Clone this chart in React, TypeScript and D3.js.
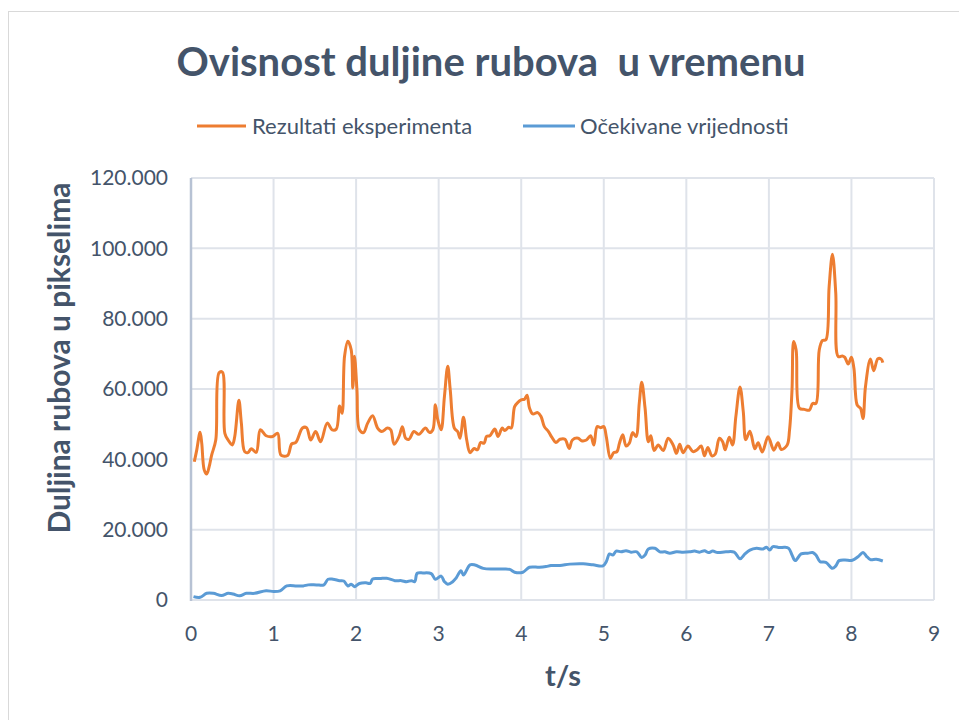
import React from 'react';
import * as d3 from 'd3';

// readings taken off the original chart: [t in s, edge length in thousands of px]
const experiment: [number, number][] = [
  [0.04, 39.3], [0.07, 42.7], [0.11, 47.7], [0.13, 44.6], [0.16, 37.0], [0.19, 35.8], [0.22, 37.9], [0.25, 41.2],
  [0.30, 45.5], [0.34, 64.6], [0.38, 64.8], [0.41, 47.4], [0.45, 45.5], [0.50, 44.1], [0.53, 46.5], [0.58, 56.8],
  [0.61, 50.3], [0.65, 42.2], [0.69, 41.9], [0.73, 43.0], [0.79, 42.0], [0.84, 48.4], [0.91, 46.7], [0.99, 46.5],
  [1.05, 47.4], [1.09, 41.2], [1.17, 41.1], [1.22, 44.4], [1.27, 44.8], [1.35, 48.9], [1.40, 49.0], [1.45, 45.5],
  [1.51, 47.9], [1.57, 45.0], [1.65, 50.3], [1.71, 48.4], [1.76, 48.6], [1.80, 55.2], [1.83, 53.1], [1.86, 69.3],
  [1.90, 73.6], [1.94, 71.2], [1.96, 60.3], [1.98, 69.3], [2.01, 59.8], [2.04, 48.4], [2.09, 47.6], [2.14, 50.3],
  [2.20, 52.4], [2.26, 48.9], [2.31, 47.9], [2.38, 48.9], [2.42, 48.4], [2.46, 44.3], [2.52, 46.5], [2.56, 49.3],
  [2.60, 46.0], [2.64, 45.7], [2.70, 47.9], [2.76, 47.1], [2.84, 48.9], [2.89, 47.6], [2.93, 48.4], [2.96, 55.5],
  [2.99, 51.2], [3.03, 48.4], [3.07, 57.9], [3.11, 66.5], [3.14, 59.8], [3.19, 48.9], [3.23, 47.9], [3.26, 46.0],
  [3.30, 52.0], [3.34, 45.5], [3.38, 41.9], [3.43, 43.1], [3.47, 42.7], [3.51, 44.8], [3.55, 44.6], [3.58, 46.5],
  [3.62, 46.7], [3.68, 48.6], [3.72, 46.5], [3.77, 48.9], [3.80, 48.2], [3.85, 49.1], [3.88, 48.9], [3.92, 55.0],
  [3.96, 56.2], [4.00, 56.9], [4.04, 57.1], [4.07, 58.2], [4.10, 54.6], [4.14, 52.9], [4.20, 53.3], [4.24, 52.2],
  [4.28, 49.3], [4.33, 47.9], [4.37, 46.3], [4.42, 44.8], [4.47, 45.7], [4.53, 45.7], [4.58, 43.1], [4.62, 45.5],
  [4.69, 46.0], [4.73, 45.3], [4.79, 45.5], [4.84, 46.7], [4.88, 44.1], [4.92, 49.3], [4.96, 49.0], [5.00, 49.3],
  [5.03, 46.5], [5.08, 40.3], [5.12, 41.9], [5.16, 42.2], [5.19, 44.6], [5.23, 47.0], [5.27, 43.8], [5.31, 44.6],
  [5.35, 47.6], [5.39, 46.5], [5.43, 56.0], [5.46, 61.9], [5.50, 54.6], [5.54, 45.0], [5.57, 46.7], [5.61, 42.5],
  [5.66, 44.1], [5.72, 42.5], [5.78, 46.0], [5.84, 44.1], [5.88, 41.7], [5.92, 44.3], [5.96, 41.9], [6.02, 43.8],
  [6.08, 42.2], [6.13, 42.7], [6.18, 43.8], [6.22, 41.0], [6.26, 43.4], [6.31, 41.0], [6.35, 41.5], [6.40, 46.0],
  [6.44, 45.0], [6.47, 42.7], [6.52, 46.3], [6.56, 44.1], [6.60, 52.2], [6.65, 60.6], [6.69, 53.5], [6.72, 45.6],
  [6.77, 48.0], [6.83, 43.0], [6.87, 44.7], [6.92, 42.1], [6.99, 46.4], [7.06, 42.6], [7.11, 44.7], [7.15, 42.8],
  [7.22, 44.0], [7.25, 48.3], [7.28, 59.7], [7.30, 73.5], [7.33, 71.1], [7.37, 54.5], [7.43, 54.2], [7.49, 54.0],
  [7.53, 55.9], [7.57, 55.9], [7.61, 71.1], [7.65, 73.8], [7.69, 74.0], [7.73, 89.2], [7.77, 98.3], [7.81, 87.3],
  [7.84, 69.2], [7.89, 69.4], [7.92, 69.0], [7.96, 67.1], [8.00, 69.0], [8.03, 65.9], [8.07, 55.4], [8.11, 54.5],
  [8.14, 51.6], [8.17, 60.7], [8.23, 68.5], [8.27, 65.2], [8.32, 68.6], [8.36, 68.5], [8.38, 67.5],
];

const expected: [number, number][] = [
  [0.03, 0.95], [0.11, 0.76], [0.19, 1.9], [0.27, 1.9], [0.37, 1.3], [0.45, 1.9], [0.51, 1.7], [0.59, 1.2],
  [0.67, 1.9], [0.77, 1.9], [0.91, 2.65], [1.00, 2.4], [1.08, 2.6], [1.16, 4.0], [1.28, 4.0], [1.36, 4.0],
  [1.42, 4.3], [1.52, 4.3], [1.61, 4.3], [1.66, 5.9], [1.72, 5.9], [1.80, 5.5], [1.85, 5.4], [1.90, 4.0],
  [1.94, 4.5], [1.98, 3.8], [2.04, 4.7], [2.12, 4.9], [2.17, 4.7], [2.20, 6.0], [2.29, 6.1], [2.37, 6.2],
  [2.47, 5.5], [2.55, 5.5], [2.61, 5.2], [2.67, 5.5], [2.71, 5.2], [2.74, 7.6], [2.81, 7.7], [2.91, 7.5],
  [2.96, 5.9], [3.03, 6.8], [3.07, 5.2], [3.11, 4.5], [3.17, 5.2], [3.21, 6.2], [3.27, 8.3], [3.30, 7.1],
  [3.38, 10.0], [3.44, 9.95], [3.54, 9.0], [3.66, 8.8], [3.78, 8.8], [3.86, 8.7], [3.92, 7.9], [4.02, 7.9],
  [4.10, 9.3], [4.22, 9.3], [4.30, 9.5], [4.36, 9.8], [4.47, 9.8], [4.59, 10.2], [4.75, 10.3], [4.87, 10.0],
  [4.99, 9.7], [5.03, 10.9], [5.07, 13.1], [5.11, 12.8], [5.15, 13.9], [5.21, 13.7], [5.27, 14.0], [5.33, 13.6],
  [5.40, 13.7], [5.46, 12.1], [5.50, 12.8], [5.54, 14.5], [5.62, 14.7], [5.68, 13.7], [5.74, 13.7], [5.80, 13.3],
  [5.88, 13.7], [5.96, 13.6], [6.04, 13.7], [6.10, 13.9], [6.16, 13.6], [6.22, 14.0], [6.27, 13.5], [6.32, 13.9],
  [6.38, 13.5], [6.48, 13.7], [6.58, 13.6], [6.65, 11.7], [6.71, 13.1], [6.77, 14.2], [6.85, 14.7], [6.93, 14.5],
  [6.97, 15.0], [7.01, 14.2], [7.05, 15.2], [7.13, 14.9], [7.19, 15.0], [7.24, 14.7], [7.28, 12.8], [7.32, 11.2],
  [7.39, 13.1], [7.47, 13.3], [7.53, 13.5], [7.57, 12.8], [7.62, 10.9], [7.69, 10.7], [7.77, 9.0], [7.81, 9.7],
  [7.85, 11.2], [7.92, 11.4], [8.01, 11.3], [8.08, 12.3], [8.14, 13.5], [8.18, 12.5], [8.23, 11.5], [8.30, 11.6],
  [8.38, 11.1],
];

const xTicks = [0, 1, 2, 3, 4, 5, 6, 7, 8, 9];
const yTicks = [0, 20, 40, 60, 80, 100, 120];
const seriesNames = ['Rezultati eksperimenta', 'Očekivane vrijednosti'];
const seriesColors = ['#ED7D31', '#5B9BD5'];

const W = 959;
const H = 720;
const FONT = 'Lato, "Open Sans", sans-serif';
const TEXT = '#44546A';

const hr = d3.formatLocale({ decimal: ',', thousands: '.', grouping: [3], currency: ['', ' kn'] });
const fmt = hr.format(',.0f');

const App = () => {
  const x = d3.scaleLinear().domain([0, 9]).range([191, 934]);
  const y = d3.scaleLinear().domain([0, 120]).range([600, 178]);

  const line = d3.line<[number, number]>()
    .x(d => x(d[0]))
    .y(d => y(d[1]))
    .curve(d3.curveCatmullRom.alpha(0.5));

  const [x0, x1] = x.range();
  const [y0, y1] = y.range();

  return (
    <div style={{ position: 'absolute', left: 0, top: 0 }}>
      <svg width={W} height={H} style={{ display: 'block', background: '#fff' }}>
        <rect x={8.5} y={11.5} width={W} height={H} fill="#fff" stroke="#d9d9d9" strokeWidth={1} />

        <text x={491} y={76} textAnchor="middle" fontFamily={FONT} fontWeight={700} fontSize={40} fill={TEXT}
          style={{ whiteSpace: 'pre' }}>
          {'Ovisnost duljine rubova  u vremenu'}
        </text>

        {/* legend */}
        <g fontFamily={FONT} fontSize={22} fill={TEXT}>
          <line x1={197} x2={246} y1={126} y2={126} stroke={seriesColors[0]} strokeWidth={3} />
          <text x={252} y={126} dy="0.35em">{seriesNames[0]}</text>
          <line x1={523} x2={575} y1={126} y2={126} stroke={seriesColors[1]} strokeWidth={3} />
          <text x={580} y={126} dy="0.35em">{seriesNames[1]}</text>
        </g>

        {/* grid */}
        <g stroke="#dfe3ea" strokeWidth={2}>
          {yTicks.filter(t => t > 0).map(t => (
            <line key={'y' + t} x1={x0} x2={x1} y1={y(t)} y2={y(t)} />
          ))}
          {xTicks.filter(t => t > 0).map(t => (
            <line key={'x' + t} x1={x(t)} x2={x(t)} y1={y0} y2={y1} />
          ))}
          <line x1={x0} x2={x1} y1={y0} y2={y0} />
        </g>
        <line x1={x0} x2={x0} y1={y0 + 1} y2={y1} stroke="#b7c2d4" strokeWidth={2.5} />

        {/* tick labels */}
        <g fontFamily={FONT} fontSize={21} fill={TEXT}>
          {yTicks.map(t => (
            <text key={'yl' + t} x={168} y={y(t)} dy="0.35em" textAnchor="end">{fmt(t * 1000)}</text>
          ))}
          {xTicks.map(t => (
            <text key={'xl' + t} x={x(t)} y={641} textAnchor="middle">{t}</text>
          ))}
        </g>

        {/* series */}
        <path d={line(expected) || ''} fill="none" stroke={seriesColors[1]} strokeWidth={3} strokeLinejoin="round" />
        <path d={line(experiment) || ''} fill="none" stroke={seriesColors[0]} strokeWidth={3} strokeLinejoin="round" />

        {/* axis titles */}
        <text x={563} y={686} textAnchor="middle" fontFamily={FONT} fontWeight={700} fontSize={29} fill={TEXT}>t/s</text>
        <text transform={`translate(70,358) rotate(-90)`} textAnchor="middle" fontFamily={FONT} fontWeight={700}
          fontSize={30} fill={TEXT}>
          Duljina rubova u pikselima
        </text>
      </svg>
    </div>
  );
};

export default App;
